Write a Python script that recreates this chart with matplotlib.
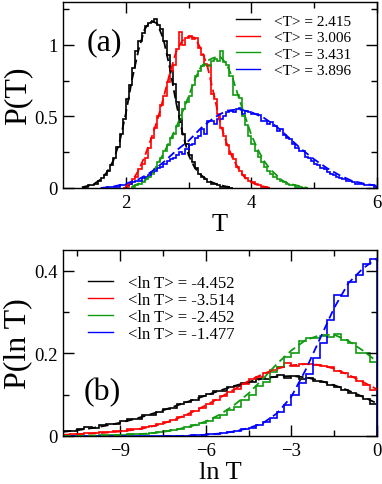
import numpy as np
import matplotlib
matplotlib.use("Agg")
import matplotlib.pyplot as plt

plt.rcParams['font.family'] = ['Liberation Serif', 'DejaVu Serif']

# ---------------- Panel (a) data ----------------
colors = ['black', 'red', '#109a10', 'blue']
labels_a = ['<T> = 2.415', '<T> = 3.006', '<T> = 3.431', '<T> = 3.896']
bin_width_a = 0.05

black_a_start = 1.30
black_a_hist = [0.00, 0.01, 0.02, 0.02, 0.03, 0.05, 0.07, 0.09, 0.12, 0.16,
                0.21, 0.29, 0.38, 0.48, 0.62, 0.72, 0.84, 0.96, 1.03, 1.08,
                1.13, 1.15, 1.16, 1.18, 1.14, 1.11, 1.03, 0.93, 0.82, 0.73,
                0.60, 0.48, 0.38, 0.31, 0.23, 0.18, 0.14, 0.10, 0.08, 0.06,
                0.04, 0.03, 0.03, 0.02, 0.01, 0.01, 0.01, 0.00]
red_a_start = 1.95
red_a_hist = [0.00, 0.01, 0.03, 0.06, 0.08, 0.13, 0.17, 0.21, 0.28, 0.35,
              0.42, 0.50, 0.58, 0.64, 0.74, 0.82, 0.86, 0.97, 1.09, 1.00,
              1.05, 1.06, 1.04, 1.05, 0.98, 0.93, 0.87, 0.86, 0.66, 0.62,
              0.52, 0.42, 0.36, 0.30, 0.24, 0.20, 0.15, 0.12, 0.09, 0.07,
              0.05, 0.04, 0.03, 0.02, 0.01, 0.01, 0.00]
green_a_start = 2.10
green_a_hist = [0.01, 0.02, 0.03, 0.04, 0.06, 0.08, 0.10, 0.13, 0.18, 0.21,
                0.26, 0.30, 0.35, 0.38, 0.43, 0.48, 0.55, 0.60, 0.64, 0.72,
                0.78, 0.82, 0.85, 0.86, 0.85, 0.89, 0.90, 0.89, 0.96, 0.88,
                0.86, 0.78, 0.65, 0.65, 0.63, 0.50, 0.44, 0.36, 0.31, 0.26,
                0.22, 0.18, 0.15, 0.12, 0.10, 0.08, 0.06, 0.05, 0.04, 0.03,
                0.02, 0.02, 0.01, 0.01, 0.00]
blue_a_start = 1.60
blue_a_hist = [0.00, 0.00, 0.01, 0.01, 0.01, 0.01, 0.02, 0.02, 0.02, 0.03,
               0.04, 0.05, 0.05, 0.07, 0.08, 0.09, 0.11, 0.12, 0.14, 0.15,
               0.17, 0.19, 0.20, 0.21, 0.23, 0.25, 0.24, 0.27, 0.30, 0.31,
               0.35, 0.36, 0.41, 0.38, 0.47, 0.47, 0.45, 0.48, 0.48, 0.50,
               0.53, 0.54, 0.53, 0.55, 0.56, 0.52, 0.54, 0.53, 0.52, 0.52,
               0.51, 0.47, 0.47, 0.45, 0.46, 0.43, 0.40, 0.41, 0.37, 0.35,
               0.34, 0.31, 0.28, 0.26, 0.26, 0.22, 0.21, 0.19, 0.17, 0.16,
               0.14, 0.13, 0.11, 0.10, 0.09, 0.08, 0.07, 0.06, 0.05, 0.05,
               0.04, 0.03, 0.03, 0.03, 0.02, 0.02, 0.02, 0.01]

black_a_fit_x = [1.3, 1.4, 1.5, 1.6, 1.7, 1.8, 1.9, 2.0, 2.1, 2.2, 2.3, 2.4, 2.5,
                 2.6, 2.7, 2.8, 2.9, 3.0, 3.1, 3.2, 3.3, 3.4, 3.5, 3.6, 3.7]
black_a_fit_y = [0.005, 0.015, 0.03, 0.06, 0.11, 0.19, 0.32, 0.52, 0.76, 0.96,
                 1.11, 1.17, 1.15, 1.04, 0.84, 0.60, 0.39, 0.23, 0.14, 0.09,
                 0.055, 0.035, 0.02, 0.01, 0.005]
red_a_fit_x = [2.0, 2.1, 2.2, 2.3, 2.4, 2.5, 2.6, 2.7, 2.8, 2.9, 3.0, 3.1, 3.2,
               3.3, 3.4, 3.5, 3.6, 3.7, 3.8, 3.9, 4.0, 4.1, 4.2, 4.3]
red_a_fit_y = [0.01, 0.05, 0.12, 0.22, 0.34, 0.47, 0.63, 0.80, 0.95, 1.03, 1.06,
               1.05, 0.97, 0.85, 0.66, 0.46, 0.32, 0.21, 0.13, 0.07, 0.04, 0.02,
               0.01, 0.00]
green_a_fit_x = [2.1, 2.2, 2.3, 2.4, 2.5, 2.6, 2.7, 2.8, 2.9, 3.0, 3.1, 3.2, 3.3,
                 3.4, 3.5, 3.6, 3.7, 3.8, 3.9, 4.0, 4.1, 4.2, 4.3, 4.4, 4.5,
                 4.6, 4.7, 4.8, 4.9]
green_a_fit_y = [0.01, 0.03, 0.05, 0.09, 0.16, 0.24, 0.33, 0.42, 0.53, 0.64,
                 0.76, 0.85, 0.89, 0.91, 0.92, 0.87, 0.77, 0.63, 0.50, 0.37,
                 0.27, 0.19, 0.13, 0.09, 0.05, 0.03, 0.02, 0.01, 0.00]
blue_a_fit_x = [1.6, 1.8, 2.0, 2.2, 2.4, 2.6, 2.8, 3.0, 3.2, 3.4, 3.6, 3.8, 4.0,
                4.2, 4.4, 4.6, 4.8, 5.0, 5.2, 5.4, 5.6, 5.8, 6.0]
blue_a_fit_y = [0.00, 0.01, 0.03, 0.06, 0.11, 0.18, 0.26, 0.33, 0.42, 0.49, 0.54,
                0.55, 0.53, 0.49, 0.43, 0.35, 0.27, 0.20, 0.14, 0.09, 0.05, 0.03,
                0.015]

# ---------------- Panel (b) data ----------------
labels_b = ['<ln T> = -4.452', '<ln T> = -3.514', '<ln T> = -2.452', '<ln T> = -1.477']
bin_start_b = -11.0
bin_width_b = 0.25

black_b_hist = [0.012, 0.013, 0.018, 0.022, 0.020, 0.026, 0.030, 0.029, 0.036, 0.041,
                0.040, 0.050, 0.052, 0.058, 0.066, 0.068, 0.078, 0.082, 0.088, 0.096,
                0.101, 0.108, 0.110, 0.118, 0.122, 0.129, 0.131, 0.137, 0.139, 0.143,
                0.147, 0.141, 0.144, 0.139, 0.141, 0.132, 0.130, 0.124, 0.118, 0.112,
                0.104, 0.097, 0.090, 0.077]
red_b_hist = [0.003, 0.004, 0.005, 0.007, 0.008, 0.009, 0.010, 0.012, 0.013, 0.016,
              0.018, 0.021, 0.025, 0.028, 0.034, 0.038, 0.045, 0.052, 0.060, 0.068,
              0.077, 0.087, 0.096, 0.106, 0.113, 0.126, 0.138, 0.143, 0.152, 0.160,
              0.166, 0.176, 0.169, 0.174, 0.175, 0.172, 0.170, 0.166, 0.158, 0.152,
              0.143, 0.134, 0.124, 0.112]
green_b_hist = [0.000, 0.000, 0.001, 0.001, 0.001, 0.002, 0.002, 0.002, 0.003, 0.004,
                0.004, 0.006, 0.007, 0.009, 0.011, 0.014, 0.017, 0.021, 0.026, 0.031,
                0.036, 0.044, 0.050, 0.062, 0.070, 0.088, 0.098, 0.120, 0.131, 0.156,
                0.168, 0.192, 0.200, 0.230, 0.238, 0.236, 0.242, 0.240, 0.246, 0.233,
                0.226, 0.200, 0.202, 0.180]
blue_b_hist = [0.000, 0.000, 0.000, 0.000, 0.000, 0.000, 0.000, 0.000, 0.000, 0.000,
               0.000, 0.000, 0.000, 0.000, 0.000, 0.000, 0.001, 0.001, 0.002, 0.003,
               0.004, 0.005, 0.007, 0.009, 0.012, 0.016, 0.020, 0.026, 0.034, 0.044,
               0.058, 0.075, 0.098, 0.128, 0.150, 0.188, 0.225, 0.280, 0.340, 0.338,
               0.372, 0.390, 0.416, 0.428]

black_b_fit_x = [-11.0, -10.5, -10.0, -9.5, -9.0, -8.5, -8.0, -7.5, -7.0, -6.5, -6.0,
                 -5.5, -5.0, -4.5, -4.0, -3.5, -3.0, -2.5, -2.0, -1.5, -1.0, -0.5, 0.0]
black_b_fit_y = [0.010, 0.014, 0.019, 0.025, 0.032, 0.041, 0.051, 0.062, 0.074, 0.086,
                 0.098, 0.110, 0.121, 0.131, 0.139, 0.144, 0.145, 0.142, 0.134, 0.123,
                 0.110, 0.095, 0.079]
red_b_fit_x = black_b_fit_x
red_b_fit_y = [0.003, 0.004, 0.006, 0.008, 0.011, 0.015, 0.021, 0.030, 0.042, 0.057,
               0.074, 0.093, 0.113, 0.133, 0.150, 0.163, 0.171, 0.174, 0.172, 0.163,
               0.148, 0.131, 0.113]
green_b_fit_x = [-11.0, -10.5, -10.0, -9.5, -9.0, -8.5, -8.0, -7.5, -7.0, -6.5, -6.0,
                 -5.5, -5.0, -4.5, -4.0, -3.5, -3.0, -2.5, -2.0, -1.5, -1.0, -0.5, 0.0]
green_b_fit_y = [0.000, 0.000, 0.001, 0.001, 0.002, 0.004, 0.006, 0.010, 0.016, 0.024,
                 0.035, 0.052, 0.075, 0.103, 0.138, 0.175, 0.207, 0.232, 0.244, 0.245,
                 0.230, 0.207, 0.180]
blue_b_fit_x = [-7.5, -7.0, -6.5, -6.0, -5.5, -5.0, -4.5, -4.0, -3.5, -3.0, -2.5,
                -2.0, -1.5, -1.0, -0.5, 0.0]
blue_b_fit_y = [0.000, 0.000, 0.001, 0.003, 0.006, 0.011, 0.019, 0.031, 0.055, 0.095,
                0.160, 0.235, 0.310, 0.370, 0.405, 0.430]

# ---------------- Figure ----------------
W, H = 382, 485
fig = plt.figure(figsize=(W / 100, H / 100), dpi=100)

def px_axes(l, t, r, b):
    return fig.add_axes([l / W, 1 - b / H, (r - l) / W, (b - t) / H])

ax1 = px_axes(63, 3, 377, 189)
ax2 = px_axes(63, 251, 377, 437)

hist_lw = 1.2
fit_kw = dict(lw=1.3, dashes=(4.5, 2.5))

hists_a = [(black_a_start, black_a_hist), (red_a_start, red_a_hist),
           (green_a_start, green_a_hist), (blue_a_start, blue_a_hist)]
fits_a = [(black_a_fit_x, black_a_fit_y), (red_a_fit_x, red_a_fit_y),
          (green_a_fit_x, green_a_fit_y), (blue_a_fit_x, blue_a_fit_y)]
handles = []
for (s, h), (fx, fy), c, lab in zip(hists_a, fits_a, colors, labels_a):
    edges = s + bin_width_a * np.arange(len(h) + 1)
    ax1.stairs(h, edges, color=c, lw=hist_lw)
    ax1.plot(fx, fy, color=c, **fit_kw)
    handles.append(plt.Line2D([], [], color=c, lw=1.0, label=lab))

ax1.set_xlim(1, 6)
ax1.set_ylim(0, 1.3)
ax1.set_xticks([2, 4, 6])
ax1.set_xticks([3, 5], minor=True)
ax1.set_yticks([0, 0.5, 1])
ax1.set_yticklabels(['0', '0.5', '1'])
ax1.set_yticks([0.25, 0.75, 1.25], minor=True)
ax1.set_xlabel('T', fontsize=19, labelpad=2)
ax1.set_ylabel('P(T)', fontsize=23, labelpad=1)
ax1.text(0.075, 0.745, '(a)', transform=ax1.transAxes, fontsize=23)
ax1.legend(handles=handles, loc='upper left', bbox_to_anchor=(0.55, 0.935),
           frameon=False, fontsize=11, handlelength=1.6, handletextpad=0.9,
           labelspacing=0.18, borderpad=0, borderaxespad=0)

hists_b = [black_b_hist, red_b_hist, green_b_hist, blue_b_hist]
fits_b = [(black_b_fit_x, black_b_fit_y), (red_b_fit_x, red_b_fit_y),
          (green_b_fit_x, green_b_fit_y), (blue_b_fit_x, blue_b_fit_y)]
handles = []
for h, (fx, fy), c, lab in zip(hists_b, fits_b, colors, labels_b):
    edges = bin_start_b + bin_width_b * np.arange(len(h) + 1)
    ax2.stairs(h, edges, color=c, lw=hist_lw)
    ax2.plot(fx, fy, color=c, **fit_kw)
    handles.append(plt.Line2D([], [], color=c, lw=1.0, label=lab))

ax2.set_xlim(-11, 0)
ax2.set_ylim(0, 0.45)
ax2.set_xticks([-9, -6, -3, 0])
ax2.set_xticks([-10.5, -7.5, -4.5, -1.5], minor=True)
ax2.set_yticks([0, 0.2, 0.4])
ax2.set_yticklabels(['0', '0.2', '0.4'])
ax2.set_yticks([0.1, 0.3], minor=True)
ax2.set_xlabel('ln T', fontsize=19, labelpad=2)
ax2.set_ylabel('P(ln T)', fontsize=23, labelpad=1)
ax2.text(0.065, 0.2, '(b)', transform=ax2.transAxes, fontsize=23)
ax2.legend(handles=handles, loc='upper left', bbox_to_anchor=(0.08, 0.865),
           frameon=False, fontsize=12, handlelength=1.5, handletextpad=0.9,
           labelspacing=0.05, borderpad=0, borderaxespad=0)

for ax in (ax1, ax2):
    ax.tick_params(which='both', direction='in', top=True, right=True,
                   labelsize=13.5, width=1.0, pad=4)
    ax.tick_params(which='major', length=8)
    ax.tick_params(which='minor', length=4)
    for sp in ax.spines.values():
        sp.set_linewidth(1.0)

fig.savefig('out.png', dpi=100)
